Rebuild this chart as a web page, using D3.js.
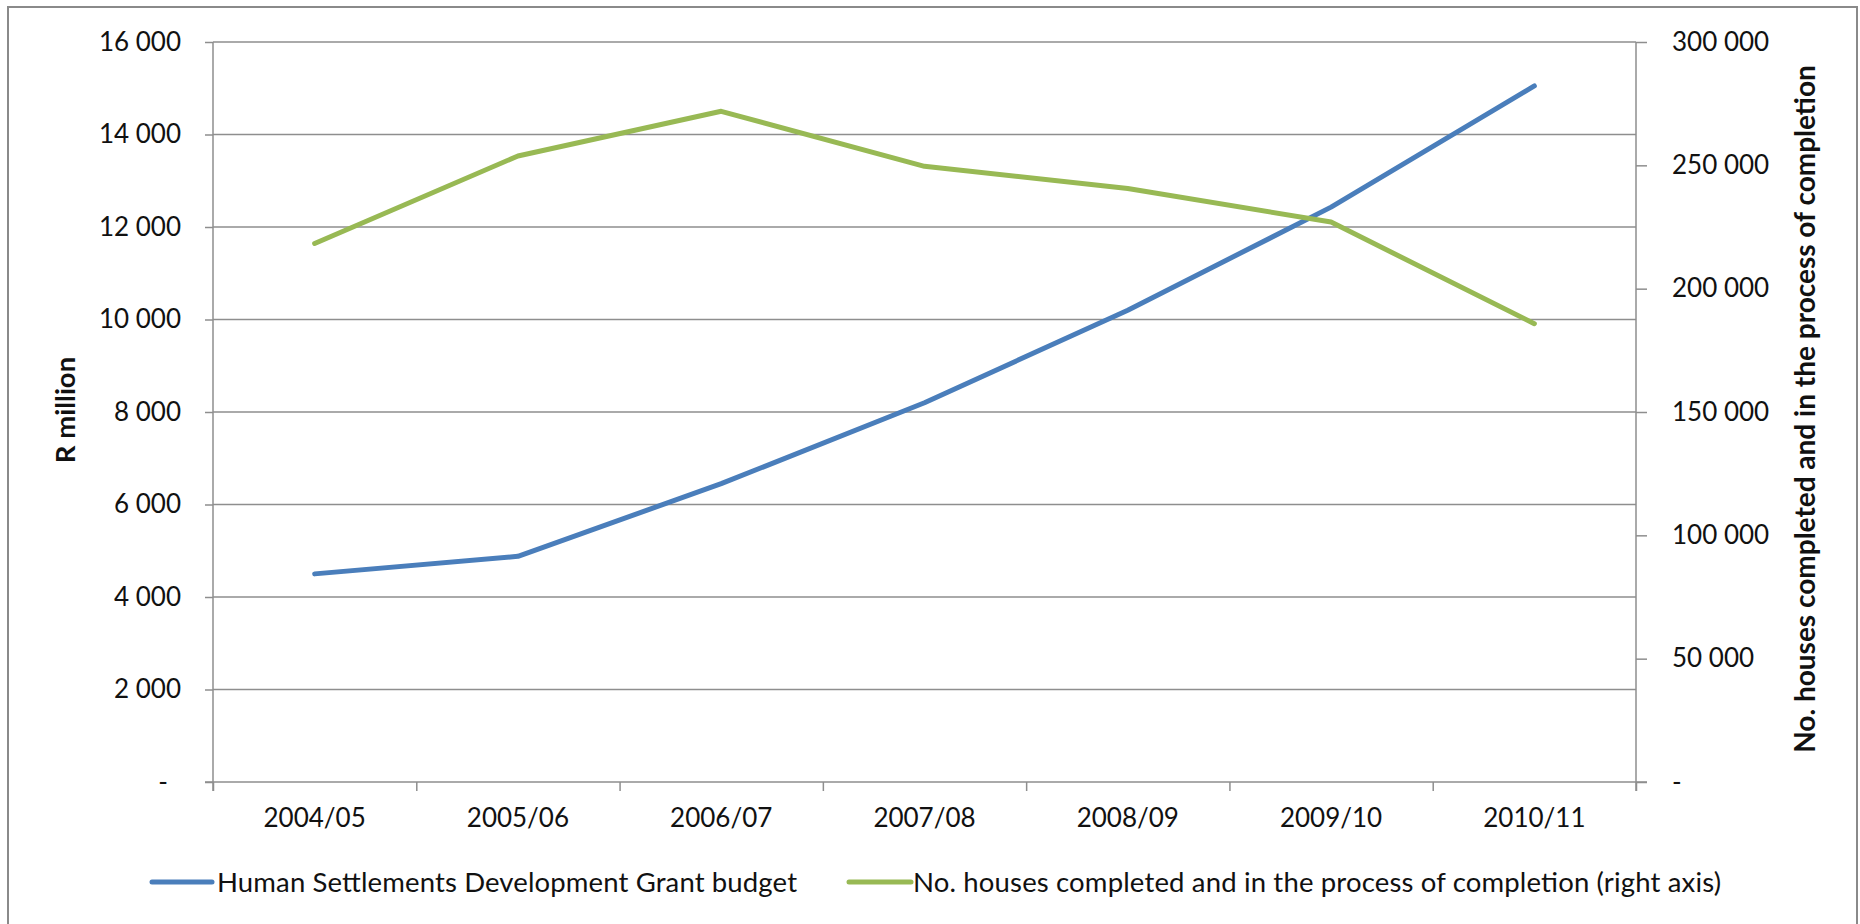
<!DOCTYPE html>
<html>
<head>
<meta charset="utf-8">
<script src="https://cdn.jsdelivr.net/npm/d3@7"></script>
<style>
  html, body { margin: 0; padding: 0; background: #fff; }
  svg { display: block; }
  text { font-family: Lato, "Open Sans", sans-serif; fill: #111; }
</style>
</head>
<body>
<svg id="chart" width="1860" height="924"></svg>
<script>
// ---- data ----
const categories = ["2004/05", "2005/06", "2006/07", "2007/08", "2008/09", "2009/10", "2010/11"];
const budget = [4500, 4880, 6450, 8200, 10200, 12430, 15050];          // R million (left axis)
const houses = [218300, 253800, 271900, 249600, 240600, 227000, 185800]; // right axis
const leftTicks = [0, 2000, 4000, 6000, 8000, 10000, 12000, 14000, 16000];
const leftTickLabels = ["-", "2 000", "4 000", "6 000", "8 000", "10 000", "12 000", "14 000", "16 000"];
const rightTicks = [0, 50000, 100000, 150000, 200000, 250000, 300000];
const rightTickLabels = ["-", "50 000", "100 000", "150 000", "200 000", "250 000", "300 000"];
const seriesNames = ["Human Settlements Development Grant budget",
                     "No. houses completed and in the process of completion (right axis)"];
const leftTitle = "R million";
const rightTitle = "No. houses completed and in the process of completion";

// ---- layout ----
const svg = d3.select("#chart");
const plot = { left: 213, right: 1636, top: 42, bottom: 782 };
const gray = "#8e8e8e";
const colors = ["#4a7ebb", "#98b954"];
const fontSize = 26;

// frame
svg.append("rect").attr("x", 8).attr("y", 7).attr("width", 1849).attr("height", 940)
  .attr("fill", "#fff").attr("stroke", "#8a8a8a").attr("stroke-width", 2);

const x = d3.scaleBand().domain(categories).range([plot.left, plot.right]).padding(0);
const yL = d3.scaleLinear().domain([0, 16000]).range([plot.bottom, plot.top]);
const yR = d3.scaleLinear().domain([0, 300000]).range([plot.bottom, plot.top]);
const cx = d => x(d) + x.bandwidth() / 2;

// gridlines
svg.append("g").selectAll("line").data(leftTicks.slice(1)).join("line")
  .attr("x1", plot.left).attr("x2", plot.right)
  .attr("y1", d => yL(d)).attr("y2", d => yL(d))
  .attr("stroke", gray).attr("stroke-width", 1.5);

// left axis
const axL = svg.append("g").attr("transform", `translate(${plot.left},0)`)
  .call(d3.axisLeft(yL).tickValues(leftTicks).tickSize(8).tickPadding(24)
    .tickFormat((d, i) => leftTickLabels[i]));
axL.select(".domain").attr("stroke", gray).attr("stroke-width", 1.5)
  .attr("d", `M0,${plot.top}V${plot.bottom + 9}`);
axL.selectAll(".tick line").attr("stroke", gray).attr("stroke-width", 1.5);
axL.selectAll(".tick text").attr("font-size", fontSize).attr("font-family", "Lato").attr("fill", "#111")
  .attr("dx", (d, i) => i === 0 ? -13 : 0);

// right axis
const axR = svg.append("g").attr("transform", `translate(${plot.right},0)`)
  .call(d3.axisRight(yR).tickValues(rightTicks).tickSize(11).tickPadding(25)
    .tickFormat((d, i) => rightTickLabels[i]));
axR.select(".domain").attr("stroke", gray).attr("stroke-width", 1.5)
  .attr("d", `M0,${plot.top}V${plot.bottom + 9}`);
axR.selectAll(".tick line").attr("stroke", gray).attr("stroke-width", 1.5);
axR.selectAll(".tick text").attr("font-size", fontSize).attr("font-family", "Lato").attr("fill", "#111");

// bottom axis (ticks between categories)
const xb = d3.scaleLinear().domain([0, categories.length]).range([plot.left, plot.right]);
const axB = svg.append("g").attr("transform", `translate(0,${plot.bottom})`)
  .call(d3.axisBottom(xb).tickValues(d3.range(categories.length + 1)).tickSize(9).tickFormat(""));
axB.select(".domain").attr("stroke", gray).attr("stroke-width", 1.5)
  .attr("d", `M${plot.left - 8},0H${plot.right + 11}`);
axB.selectAll(".tick line").attr("stroke", gray).attr("stroke-width", 1.5);

svg.append("g").selectAll("text").data(categories).join("text")
  .attr("x", d => cx(d)).attr("y", 818).attr("dy", "0.35em")
  .attr("text-anchor", "middle").attr("font-size", fontSize).text(d => d);

// lines
const lineL = d3.line().x((d, i) => cx(categories[i])).y(d => yL(d));
const lineR = d3.line().x((d, i) => cx(categories[i])).y(d => yR(d));
svg.append("path").datum(budget).attr("d", lineL).attr("fill", "none")
  .attr("stroke", colors[0]).attr("stroke-width", 5).attr("stroke-linecap", "round").attr("stroke-linejoin", "round");
svg.append("path").datum(houses).attr("d", lineR).attr("fill", "none")
  .attr("stroke", colors[1]).attr("stroke-width", 5).attr("stroke-linecap", "round").attr("stroke-linejoin", "round");

// axis titles
svg.append("text").attr("transform", "translate(65,410) rotate(-90)")
  .attr("text-anchor", "middle").attr("dy", "0.35em")
  .attr("font-size", 27.5).attr("font-weight", "bold").text(leftTitle);
svg.append("text").attr("transform", "translate(1805,409) rotate(-90)")
  .attr("text-anchor", "middle").attr("dy", "0.35em")
  .attr("font-size", 28).attr("font-weight", "bold").text(rightTitle);

// legend
const legendItems = [
  { x0: 152, x1: 212, tx: 217, w: 580 },
  { x0: 849, x1: 911, tx: 913, w: 808 }
];
const lg = svg.append("g");
legendItems.forEach((it, i) => {
  lg.append("line").attr("x1", it.x0).attr("x2", it.x1).attr("y1", 882).attr("y2", 882)
    .attr("stroke", colors[i]).attr("stroke-width", 5).attr("stroke-linecap", "round");
  lg.append("text").attr("x", it.tx).attr("y", 882).attr("dy", "0.35em")
    .attr("font-size", 27.5).attr("textLength", it.w).attr("lengthAdjust", "spacing")
    .text(seriesNames[i]);
});
</script>
</body>
</html>
